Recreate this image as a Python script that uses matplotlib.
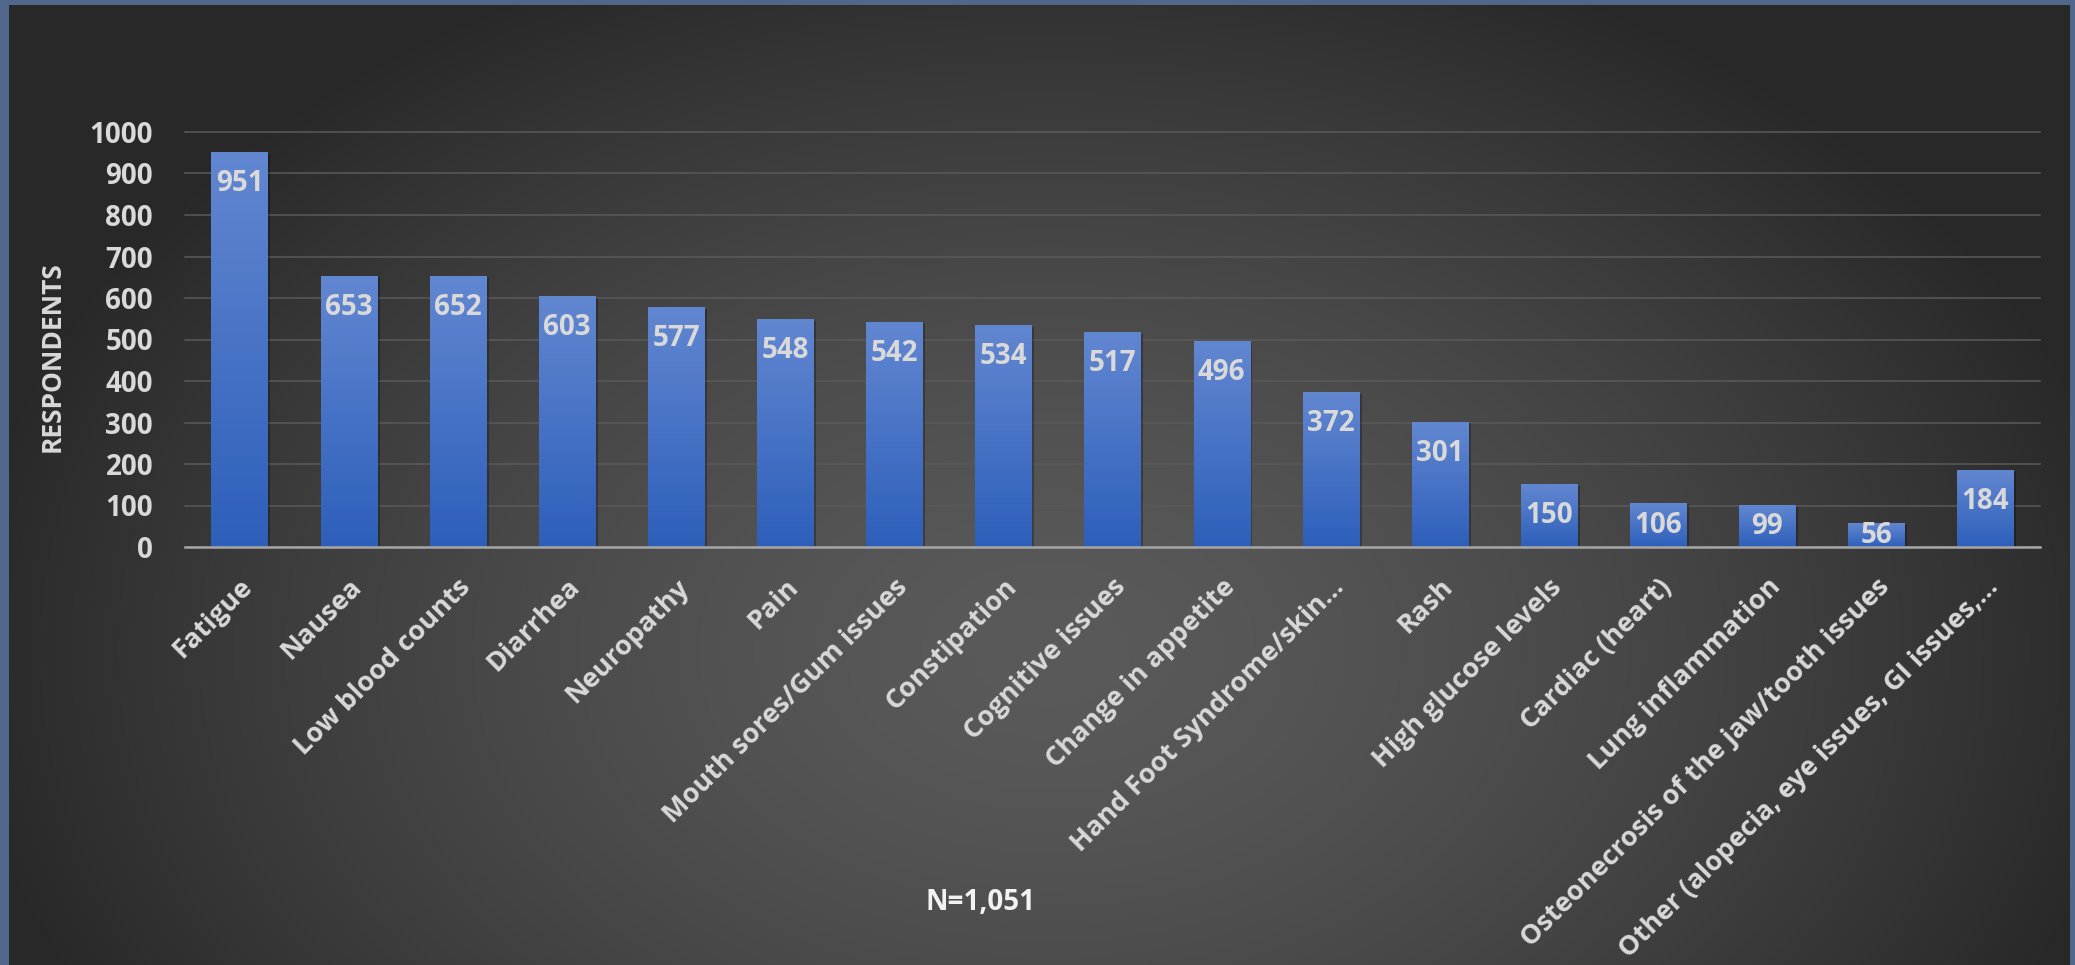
import numpy as np
import matplotlib
matplotlib.use('Agg')
import matplotlib.pyplot as plt
from matplotlib import patheffects as pe
from matplotlib.transforms import offset_copy

plt.rcParams['font.family'] = ['Open Sans', 'DejaVu Sans']
plt.rcParams['font.weight'] = 'bold'

W, H = 2075, 965

categories = [
    'Fatigue', 'Nausea', 'Low blood counts', 'Diarrhea', 'Neuropathy', 'Pain',
    'Mouth sores/Gum issues', 'Constipation', 'Cognitive issues',
    'Change in appetite', 'Hand Foot Syndrome/skin\u2026', 'Rash',
    'High glucose levels', 'Cardiac (heart)', 'Lung inflammation',
    'Osteonecrosis of the jaw/tooth issues',
    'Other (alopecia, eye issues, GI issues,\u2026',
]
values = [951, 653, 652, 603, 577, 548, 542, 534, 517, 496, 372, 301, 150, 106, 99, 56, 184]
yticks = list(range(0, 1001, 100))
ylabel = 'RESPONDENTS'
note = 'N=1,051'

text_col = '#d9d9d9'

fig = plt.figure(figsize=(W / 100, H / 100), dpi=100, facecolor='#50668a')

# dark radial background inside the blue frame
bg = fig.add_axes([9 / W, 0, 2061 / W, 960 / H])
bg.axis('off')
yy, xx = np.mgrid[0:960, 0:2061]
px = xx + 9
py = yy + 5
r = np.sqrt(((px - 1050) / 1100.0) ** 2 + ((py - 650) / 750.0) ** 2)
t = np.clip(r, 0, 1) ** 1.5
light, dark = 0x5a, 0x28
g = (light - (light - dark) * t) / 255.0
bg.imshow(np.dstack([g, g, g]), aspect='auto', interpolation='bilinear')

ax = fig.add_axes([185 / W, 1 - 547 / H, (2040 - 185) / W, (547 - 132) / H])
ax.set_facecolor('none')

x = np.arange(len(categories))
bw = 0.515
bars = ax.bar(x, values, width=bw, color='#3d6ec8', zorder=2,
              path_effects=[pe.SimplePatchShadow(offset=(2, -1), shadow_rgbFace='black', alpha=0.28),
                            pe.Normal()])

top_c = np.array([0x62, 0x87, 0xd1]) / 255.0
bot_c = np.array([0x2d, 0x5f, 0xba]) / 255.0
grad = np.linspace(0, 1, 256)[:, None, None]
grad_img = top_c * (1 - grad) + bot_c * grad
for b in bars:
    x0 = b.get_x()
    ax.imshow(grad_img, extent=[x0, x0 + b.get_width(), 0, b.get_height()],
              aspect='auto', zorder=2.5, interpolation='bilinear')

ax.set_xlim(-0.5, len(categories) - 0.5)
ax.set_ylim(0, 1000)

ax.set_yticks(yticks)
ax.yaxis.grid(True, color='#5a5a5a', lw=1.1)
for gl in ax.get_ygridlines():
    gl.set_clip_on(False)
ax.set_axisbelow(True)
ax.tick_params(axis='y', length=0, pad=23, labelsize=20, labelcolor=text_col)
ax.set_xticks(x)
ax.set_xticklabels([])
ax.tick_params(axis='x', length=0)

for s in ['top', 'right', 'left']:
    ax.spines[s].set_visible(False)
ax.spines['bottom'].set_color('#a6a6a6')
ax.spines['bottom'].set_linewidth(1.8)
ax.spines['bottom'].set_zorder(3)

# value labels inside the bar ends
for xi, v in zip(x, values):
    off = min(75, max(v - 75, v / 2))
    ax.text(xi, v - off, str(v), ha='center', va='center', fontsize=20,
            color=text_col, zorder=4)

# rotated category labels
trans = offset_copy(ax.get_xaxis_transform(), fig=fig, x=0, y=-27, units='dots')
for xi, c in zip(x, categories):
    ax.text(xi, 0, c, transform=trans, rotation=45, rotation_mode='anchor',
            ha='right', va='top', fontsize=19.5, color=text_col)

fig.text(52 / W, 1 - 357 / H, ylabel, rotation=90, ha='center', va='center',
         fontsize=19, color=text_col)
fig.text(980 / W, 1 - 902 / H, note, ha='center', va='center', fontsize=20,
         color='#f2f2f2')

fig.savefig('out.png', dpi=100, facecolor=fig.get_facecolor())
